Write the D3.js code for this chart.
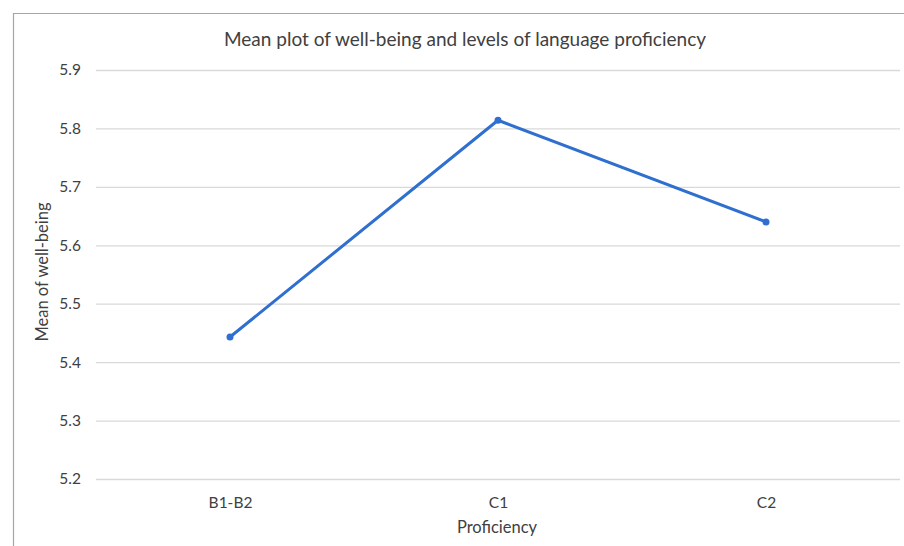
<!DOCTYPE html>
<html><head><meta charset="utf-8">
<script src="https://cdn.jsdelivr.net/npm/d3@7"></script>
<style>body{margin:0;background:#fff}svg{display:block}text{font-family:Lato,"Open Sans",sans-serif;fill:#404040}</style>
</head><body><svg id="c" width="904" height="546"></svg>
<script>
const categories = ["B1-B2", "C1", "C2"];
const wellbeing = [5.443, 5.814, 5.640];
const yTicks = [5.2, 5.3, 5.4, 5.5, 5.6, 5.7, 5.8, 5.9];

const svg = d3.select("#c");
// chart border
svg.append("path").attr("d","M13.5,546 V13.5 H904").attr("fill","none").attr("stroke","#a6a6a6").attr("stroke-width",1.2);

const x = d3.scalePoint().domain(categories).range([96, 900]).padding(0.5);
const y = d3.scaleLinear().domain([5.2, 5.9]).range([479, 70]);

const yAxis = svg.append("g").attr("transform","translate(96,0)")
  .call(d3.axisLeft(y).tickValues(yTicks).tickFormat(d3.format(".1f")).tickSize(-804).tickPadding(15));
yAxis.select(".domain").remove();
yAxis.selectAll("line").attr("stroke","#d9d9d9").attr("stroke-width",1.3);
yAxis.selectAll("text").style("font-size","15.5px").attr("fill","#404040");

const xAxis = svg.append("g").attr("transform","translate(0,479)")
  .call(d3.axisBottom(x).tickSize(0).tickPadding(18));
xAxis.select(".domain").remove();
xAxis.selectAll("text").style("font-size","15.5px").attr("fill","#404040");

const line = d3.line().x((d,i)=>x(categories[i])).y(d=>y(d));
svg.append("path").datum(wellbeing).attr("d",line).attr("fill","none")
  .attr("stroke","#2f6fd0").attr("stroke-width",3).attr("stroke-linejoin","round");
svg.selectAll("circle.m").data(wellbeing).join("circle").attr("class","m")
  .attr("cx",(d,i)=>x(categories[i])).attr("cy",d=>y(d)).attr("r",3.5).attr("fill","#2f6fd0");

svg.append("text").attr("x",465).attr("y",46).attr("text-anchor","middle").style("font-size","19px").text("Mean plot of well-being and levels of language proficiency");
svg.append("text").attr("x",497).attr("y",533).attr("text-anchor","middle").style("font-size","16.5px").text("Proficiency");
svg.append("text").attr("transform","translate(48,272) rotate(-90)").attr("text-anchor","middle").style("font-size","16.5px").text("Mean of well-being");
</script></body></html>
